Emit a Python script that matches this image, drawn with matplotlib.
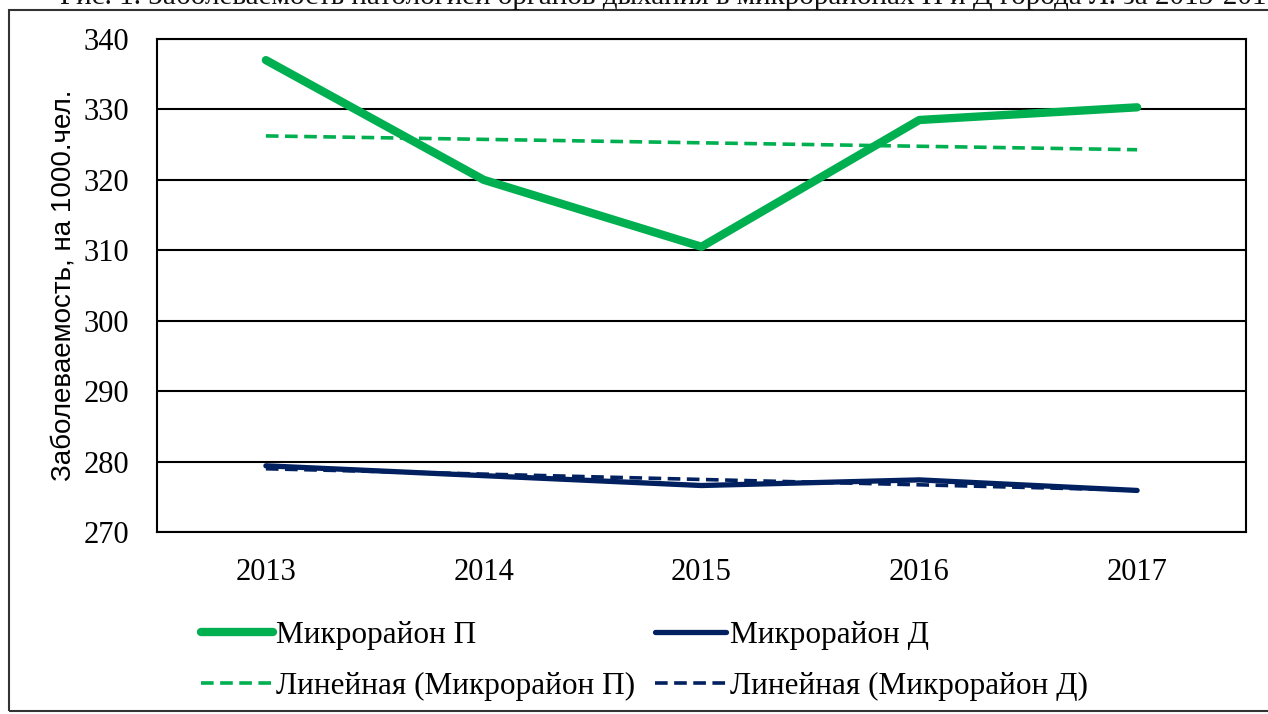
import numpy as np
import matplotlib
matplotlib.use("Agg")
import matplotlib.pyplot as plt
from matplotlib.patches import Rectangle

years = ["2013", "2014", "2015", "2016", "2017"]
micro_p = [337.0, 320.0, 310.5, 328.5, 330.3]
micro_d = [279.4, 278.0, 276.6, 277.4, 275.9]
yticks = [270, 280, 290, 300, 310, 320, 330, 340]

labels = ["Микрорайон П", "Микрорайон Д",
          "Линейная (Микрорайон П)", "Линейная (Микрорайон Д)"]
ylabel = "Заболеваемость, на 1000.чел."
title = "Рис. 1. Заболеваемость патологией органов дыхания в микрорайонах П и Д города Л. за 2013-2017 гг."

GREEN = "#00B050"
NAVY = "#002060"
SERIF = ["Liberation Serif", "DejaVu Serif"]

W, H = 1268, 714
fig = plt.figure(figsize=(W / 100, H / 100), dpi=100)

# outer frame
fig.patches.append(Rectangle((9 / W, 3 / H), 1.2, (711 - 10) / H,
                             transform=fig.transFigure, fill=False,
                             edgecolor="#333333", linewidth=1.5))
fig.text(60 / W, 1 - 4 / H, title, fontfamily=SERIF, fontsize=21,
         va="baseline", ha="left", color="#111111")

ax = fig.add_axes([157 / W, (H - 532) / H, (1246 - 157) / W, (532 - 39) / H])
x = np.arange(len(years))

def trend(vals):
    k, b = np.polyfit(x, vals, 1)
    return k * x + b

lp, = ax.plot(x, micro_p, color=GREEN, linewidth=6, solid_capstyle="round",
              solid_joinstyle="round", zorder=4)
ld, = ax.plot(x, micro_d, color=NAVY, linewidth=3.8, solid_capstyle="round",
              solid_joinstyle="round", zorder=4)
ltp, = ax.plot(x, trend(micro_p), color=GREEN, linewidth=2.6,
               dashes=(3.5, 1.8), zorder=5)
ltd, = ax.plot(x, trend(micro_d), color=NAVY, linewidth=2.6,
               dashes=(3.5, 1.8), zorder=5)

ax.set_xlim(-0.5, len(years) - 0.5)
ax.set_ylim(270, 340)
ax.set_yticks(yticks)
ax.set_xticks(x)
ax.set_xticklabels(years)
ax.yaxis.grid(True, color="black", linewidth=1.5)
ax.set_axisbelow(True)
for s in ax.spines.values():
    s.set_color("black")
    s.set_linewidth(1.5)
ax.tick_params(axis="both", length=0, labelsize=22)
ax.tick_params(axis="y", pad=20)
ax.tick_params(axis="x", pad=19)
for t in ax.get_xticklabels() + ax.get_yticklabels():
    t.set_fontfamily(SERIF)

ax.set_ylabel(ylabel, fontfamily=["Liberation Sans", "DejaVu Sans"],
              fontsize=20)
ax.yaxis.set_label_coords(-(157 - 77) / (1246 - 157), 0.5)

leg = fig.legend([lp, ltp, ld, ltd],
                 [labels[0], labels[2], labels[1], labels[3]],
                 ncol=2, loc="upper left",
                 bbox_to_anchor=(201 / W, 1 - 621 / H),
                 frameon=False, prop={"family": SERIF, "size": 22.5},
                 handlelength=2.3, handletextpad=0.1, columnspacing=0.62,
                 labelspacing=0.7, borderaxespad=0, borderpad=0)

fig.savefig("out.png", dpi=100)
